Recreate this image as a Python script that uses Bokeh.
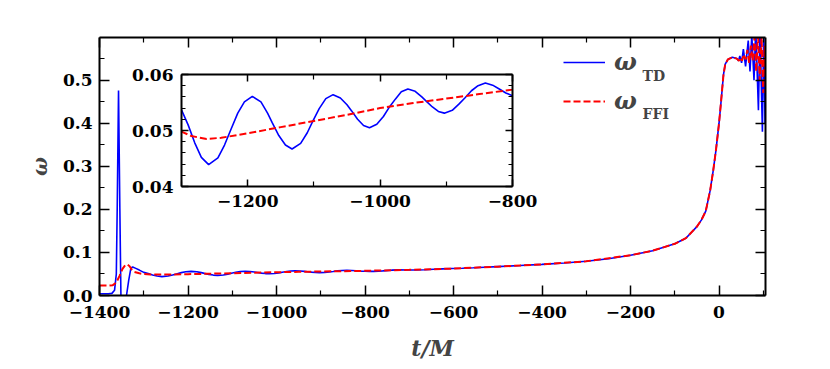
from bokeh.plotting import figure
from bokeh.models import (FixedTicker, LinearAxis, Legend, LegendItem, Label, Range1d,
                          CustomLabelingPolicy)
from bokeh.embed import file_html
from bokeh.resources import INLINE

FONT = "DejaVu Serif"

# ---------------- data ----------------
t_td = [-1400, -1380, -1372, -1366, -1362, -1360, -1357, -1354, -1351, -1342,
        -1339, -1334, -1329, -1325, -1318, -1310, -1300, -1290, -1280, -1270,
        -1259, -1245, -1235, -1226, -1215, -1205, -1193, -1180, -1170, -1163,
        -1153, -1143, -1133, -1120, -1110, -1102, -1092, -1082, -1071, -1060,
        -1050, -1043, -1034, -1025, -1016, -1005, -995, -987, -977, -968,
        -958, -947, -937, -930, -921, -912, -903, -891, -881, -872,
        -862, -852, -841, -830, -820, -810, -800, -790, -780, -760,
        -740, -725, -705, -685, -665, -645, -625, -605, -580, -555,
        -530, -500, -450, -400, -350, -300, -250, -200, -150, -100,
        -75, -50, -40, -30, -20, -13, -7, -5, 0, 5,
        10, 14, 20, 30, 40, 44, 47, 51, 55, 60,
        66, 70, 74, 79, 83, 89, 92.6, 98, 101, 104]
w_td = [0.004, 0.004, 0.005, 0.012, 0.05, 0.2, 0.476, 0.2, -0.05, -0.05,
        0.0, 0.035, 0.064, 0.066, 0.063, 0.059, 0.0537, 0.0510, 0.0478, 0.0452,
        0.0439, 0.0451, 0.0474, 0.0500, 0.0531, 0.0551, 0.0561, 0.0551, 0.0531, 0.0514,
        0.0491, 0.0474, 0.0467, 0.0477, 0.0496, 0.0516, 0.0539, 0.0557, 0.0564, 0.0558,
        0.0546, 0.0535, 0.0520, 0.0509, 0.0505, 0.0511, 0.0525, 0.0540, 0.0556, 0.0569,
        0.0574, 0.0570, 0.0560, 0.0552, 0.0542, 0.0534, 0.0531, 0.0536, 0.0547, 0.0558,
        0.0571, 0.0580, 0.0585, 0.0581, 0.0574, 0.0567, 0.0562, 0.0559, 0.0560, 0.0572,
        0.0588, 0.0595, 0.0593, 0.0592, 0.0597, 0.0608, 0.0619, 0.0627, 0.0633, 0.0643,
        0.0655, 0.0670, 0.0695, 0.0722, 0.0756, 0.0795, 0.0855, 0.0935, 0.1040, 0.1200,
        0.1330, 0.1600, 0.1750, 0.1960, 0.2440, 0.2910, 0.3370, 0.3550, 0.4000, 0.4550,
        0.5120, 0.5370, 0.5480, 0.5530, 0.5500, 0.5450, 0.5560, 0.5400, 0.5720, 0.5320,
        0.5920, 0.5200, 0.6050, 0.5000, 0.6200, 0.4300, 0.6200, 0.3800, 0.6200, 0.4000]

t_ffi = [-1400, -1380, -1370, -1362, -1355, -1348, -1342, -1337, -1332, -1327,
         -1322, -1310, -1300, -1285, -1262, -1240, -1200, -1150, -1100, -1050,
         -1000, -950, -900, -850, -800, -700, -600, -500, -400, -300,
         -200, -150, -100, -75, -50, -40, -30, -20, -13, -7,
         -5, 0, 5, 10, 14, 20, 30, 40, 45, 48,
         52, 56, 60, 64, 68, 72, 76, 80, 84, 88,
         92, 96, 100, 103, 105]
w_ffi = [0.023, 0.023, 0.024, 0.030, 0.045, 0.062, 0.070, 0.072, 0.068, 0.060,
         0.055, 0.0515, 0.0498, 0.0490, 0.0485, 0.0487, 0.0495, 0.0506, 0.0517, 0.0528,
         0.0540, 0.0549, 0.0557, 0.0565, 0.0573, 0.0595, 0.0625, 0.0670, 0.0722, 0.0795,
         0.0935, 0.1040, 0.1200, 0.1330, 0.1600, 0.1750, 0.1960, 0.2440, 0.2910, 0.3370,
         0.3550, 0.4000, 0.4550, 0.5120, 0.5370, 0.5480, 0.5530, 0.5500, 0.5450, 0.5520,
         0.5450, 0.5600, 0.5480, 0.5700, 0.5400, 0.5800, 0.5450, 0.6000, 0.5200, 0.6100,
         0.5000, 0.6000, 0.4700, 0.5800, 0.5200]

main_xticks = [-1400, -1200, -1000, -800, -600, -400, -200, 0]
main_xminor = [-1300, -1100, -900, -700, -500, -300, -100, 100]
main_yticks = [0.0, 0.1, 0.2, 0.3, 0.4, 0.5]
main_yminor = [0.05, 0.15, 0.25, 0.35, 0.45, 0.55]
main_ylabels = ["0.0", "0.1", "0.2", "0.3", "0.4", "0.5"]

inset_xticks = [-1200, -1000, -800]
inset_xminor = [-1300, -1100, -900]
inset_yticks = [0.04, 0.05, 0.06]
inset_yminor = [0.042, 0.044, 0.046, 0.048, 0.052, 0.054, 0.056, 0.058]
inset_ylabels = ["0.04", "0.05", "0.06"]

BLUE = "#0000ff"
RED = "#ff0000"

NO_LABELS = CustomLabelingPolicy(code="""
const all = [...indices]
for (const i of all) indices.unset(i)
return indices
""")


def minus_labels(ticks):
    return {v: ("\u2212" + str(abs(v)) if v < 0 else str(v)) for v in ticks}


def style_axis(ax, ticks, minor, major_len, minor_len, labels=None, show_labels=True):
    ax.ticker = FixedTicker(ticks=ticks, minor_ticks=minor)
    ax.axis_line_color = "black"
    ax.axis_line_width = 2
    ax.major_tick_in = major_len
    ax.major_tick_out = 0
    ax.minor_tick_in = minor_len
    ax.minor_tick_out = 0
    ax.major_tick_line_width = 1.5
    ax.minor_tick_line_width = 1.2
    ax.major_tick_line_color = "black"
    ax.minor_tick_line_color = "black"
    ax.major_label_text_font = FONT
    ax.major_label_text_font_style = "bold"
    ax.major_label_text_color = "black"
    ax.major_label_text_font_size = "17px"
    if labels is not None:
        ax.major_label_overrides = labels
    if not show_labels:
        ax.major_label_policy = NO_LABELS
        ax.major_label_standoff = 0


# ---------------- main figure ----------------
p = figure(output_backend="svg", toolbar_location=None,
           width=822, height=361, frame_width=666, frame_height=258,
           x_range=Range1d(-1400, 105), y_range=Range1d(0, 0.599),
           min_border_left=99, min_border_right=57, min_border_top=37, min_border_bottom=66)
p.xgrid.visible = False
p.ygrid.visible = False
p.outline_line_color = None
p.background_fill_color = "white"
p.border_fill_color = "white"

style_axis(p.xaxis[0], main_xticks, main_xminor, 10, 5, minus_labels(main_xticks))
style_axis(p.yaxis[0], main_yticks, main_yminor, 10, 5, dict(zip(main_yticks, main_ylabels)))
p.xaxis[0].major_label_standoff = 10
p.yaxis[0].major_label_standoff = 7
p.xaxis[0].axis_label = "t/M"
p.xaxis[0].axis_label_text_font = FONT
p.xaxis[0].axis_label_text_font_style = "bold italic"
p.xaxis[0].axis_label_text_font_size = "22px"
p.xaxis[0].axis_label_standoff = 14
p.yaxis[0].axis_label = "ω"
p.yaxis[0].axis_label_text_font = FONT
p.yaxis[0].axis_label_text_font_style = "bold italic"
p.yaxis[0].axis_label_text_font_size = "20px"
p.yaxis[0].axis_label_standoff = 8

top_ax = LinearAxis()
style_axis(top_ax, main_xticks, main_xminor, 10, 5, show_labels=False)
p.add_layout(top_ax, "above")
right_ax = LinearAxis()
style_axis(right_ax, main_yticks, main_yminor, 10, 5, show_labels=False)
p.add_layout(right_ax, "right")

r_td = p.line(t_td, w_td, line_color=BLUE, line_width=1.6)
r_ffi = p.line(t_ffi, w_ffi, line_color=RED, line_width=2, line_dash="7 3")

legend = Legend(items=[LegendItem(label="ω", renderers=[r_td]),
                       LegendItem(label="ω", renderers=[r_ffi])],
                location=(464, 180), orientation="vertical",
                border_line_color=None, background_fill_alpha=0,
                padding=0, margin=0, spacing=10, glyph_width=42, glyph_height=26,
                label_height=26, label_standoff=9,
                label_text_font=FONT, label_text_font_style="bold italic",
                label_text_font_size="24px")
p.add_layout(legend)

p.add_layout(Label(x=543, y=220, x_units="screen", y_units="screen", text="TD",
                   text_font=FONT, text_font_style="bold", text_font_size="14px",
                   text_baseline="alphabetic"))
p.add_layout(Label(x=543, y=182, x_units="screen", y_units="screen", text="FFI",
                   text_font=FONT, text_font_style="bold", text_font_size="14px",
                   text_baseline="alphabetic"))

# ---------------- inset figure (separate root, placed over the main one) ----------------
q = figure(output_backend="svg", toolbar_location=None,
           width=412, height=157, frame_width=331, frame_height=112,
           x_range=Range1d(-1300, -800), y_range=Range1d(0.04, 0.06),
           min_border_left=61, min_border_right=20, min_border_top=10, min_border_bottom=35)
q.xgrid.visible = False
q.ygrid.visible = False
q.outline_line_color = None
q.background_fill_color = "white"
q.border_fill_alpha = 0
style_axis(q.xaxis[0], inset_xticks, inset_xminor, 7, 5, minus_labels(inset_xticks))
style_axis(q.yaxis[0], inset_yticks, inset_yminor, 7, 4, dict(zip(inset_yticks, inset_ylabels)))
q.xaxis[0].major_label_standoff = 8
q.yaxis[0].major_label_standoff = 8
qt = LinearAxis()
style_axis(qt, inset_xticks, inset_xminor, 7, 5, show_labels=False)
q.add_layout(qt, "above")
qr = LinearAxis()
style_axis(qr, inset_yticks, inset_yminor, 7, 4, show_labels=False)
q.add_layout(qr, "right")
q.line(t_td, w_td, line_color=BLUE, line_width=1.6)
q.line(t_ffi, w_ffi, line_color=RED, line_width=2, line_dash="7 3")
q.styles = {"position": "absolute", "left": "120px", "top": "59px", "z-index": "10"}

open("out.html", "w").write(file_html([p, q], INLINE))
